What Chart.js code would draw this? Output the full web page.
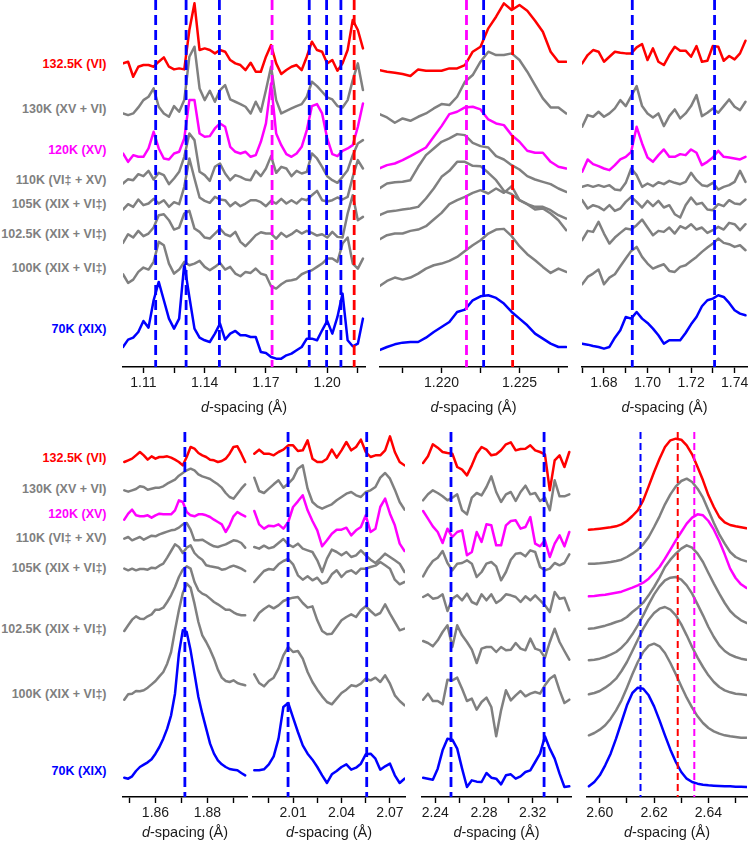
<!DOCTYPE html>
<html lang="en">
<head>
<meta charset="UTF-8">
<title>d-spacing stacks</title>
<script src="https://cdn.jsdelivr.net/npm/chart.js@4.4.1/dist/chart.umd.min.js"></script>
<style>
  html, body { margin: 0; padding: 0; background: #fff; overflow: hidden; }
  #fig { position: relative; width: 748px; height: 843px; overflow: hidden; font-family: 'Liberation Sans', Arial, sans-serif; }
  #fig canvas { position: absolute; }
  .lab { position: absolute; right: 641.5px; font-weight: bold; font-size: 12.5px; line-height: 16px; white-space: nowrap; }
  .ttl { position: absolute; width: 160px; text-align: center; font-size: 14.5px; line-height: 18px; color: #1a1a1a; }
</style>
</head>
<body>
<div id="fig"></div>
<script>
// ---------------- data ----------------
// runs, top to bottom of every stack
const runLabels = ['132.5K (VI)', '130K (XV + VI)', '120K (XV)', '110K (VI‡ + XV)',
                   '105K (XIX + VI‡)', '102.5K (XIX + VI‡)', '100K (XIX + VI‡)', '70K (XIX)'];
const runPhase  = ['VI', 'mix', 'XV', 'mix', 'mix', 'mix', 'mix', 'XIX'];

// panel A: 1.10 - 1.22
const xA = [1.1000,1.1025,1.1050,1.1075,1.1100,1.1125,1.1150,1.1175,1.1200,1.1225,1.1250,1.1275,
            1.1300,1.1325,1.1350,1.1375,1.1400,1.1425,1.1450,1.1475,1.1500,1.1525,1.1550,1.1575,
            1.1600,1.1625,1.1650,1.1675,1.1700,1.1725,1.1750,1.1775,1.1800,1.1825,1.1850,1.1875,
            1.1900,1.1925,1.1950,1.1975,1.2000,1.2025,1.2050,1.2075,1.2100,1.2125,1.2150,1.2175];
const offA = [90, 76, 63, 56, 49, 39, 27, 6];
const redA  = [1.0,1.5,-3.0,0,0.5,0.5,0,1.5,2.8,0,-0.8,-0.5,-0.8,11.0,19.0,5.0,5.5,5.0,4.0,5.0,4.5,2.0,1.0,0.5,
               -1.0,1.2,-1.5,-1.5,3.0,6.5,1.0,-2.2,-1.0,0,0.5,-1.0,3.0,7.5,5.0,4.5,1.0,2.0,-1.2,1.0,5.0,14.0,11.0,5.5];
const g130A = [0,-0.5,0,1.8,4.0,5.0,7.5,2.0,0,-1.0,2.2,0.5,4.0,17.0,20.0,7.5,4.0,6.8,3.5,7.0,8.5,4.2,3.5,2.8,
               2.0,0,3.5,0.5,7.0,14.0,4.0,0,0.8,1.5,2.2,2.8,5.0,9.5,8.2,6.5,4.8,4.2,2.2,1.8,4.0,10.0,15.0,7.0];
const magA  = [1.0,-1.5,0.5,0,0,2.5,7.5,2.5,-0.5,-0.8,1.0,1.5,5.5,17.0,17.0,7.0,6.0,6.2,8.5,10.0,9.0,3.0,1.5,1.0,
               1.5,0,0.5,4.5,10.0,22.0,7.0,3.5,0.8,0,1.0,3.0,8.0,15.2,15.8,13.0,5.5,0.8,0.2,1.8,2.5,3.5,9.0,16.0];
const g110A = [-1.0,0.3,0,1.8,1.2,2.8,0.2,2.2,1.5,-1.2,0.5,2.5,7.0,14.0,12.0,2.5,1.5,-0.2,4.0,5.0,2.0,0,1.5,1.0,
               0.2,0,2.8,1.2,3.5,7.2,2.2,4.0,3.5,1.2,2.8,2.0,2.5,8.0,6.5,4.0,1.2,0,-0.8,1.0,3.0,7.5,11.0,12.0];
const g105A = [-1.8,-0.2,-1.0,1.2,-0.5,0,1.4,0,1.0,-1.0,0.4,-0.2,5.0,13.5,7.5,1.8,0.8,0.2,2.0,1.2,1.0,-0.8,0.4,-0.8,
               0,1.0,1.0,0.4,-0.8,0.8,0,1.4,0,1.0,0,1.4,1.0,2.5,3.8,1.0,0.6,1.0,1.8,1.2,2.0,8.0,13.0,10.5];
const g102A = [-1.8,0.8,-0.2,1.8,0.2,1.0,2.8,6.5,6.8,5.0,2.2,2.8,7.0,7.8,2.5,1.5,-0.2,-0.5,1.0,2.5,0.8,0.2,1.5,-1.5,
               -2.8,-1.2,0.5,1.4,1.0,1.0,-0.5,1.2,0,0.8,2.0,1.0,1.8,1.2,0.4,0.8,-0.2,1.5,0,-0.2,7.0,12.5,5.0,6.0];
const g100A = [0.8,-1.8,-0.8,1.5,2.8,2.2,4.5,10.5,9.5,4.0,1.0,2.2,4.5,3.5,4.0,4.8,3.0,2.0,3.0,4.2,2.2,3.0,1.0,0.2,
               1.5,1.2,2.5,1.0,0.5,-2.8,-3.5,-2.2,-1.2,-1.0,-0.6,0.8,1.5,2.0,3.0,4.0,5.5,5.5,4.5,10.0,11.8,4.0,2.5,5.5];
const blueA = [0,2.2,2.8,4.5,7.8,5.8,14.0,19.5,14.0,8.5,5.5,8.5,25.0,15.0,5.5,2.8,2.0,1.5,4.0,7.0,2.2,4.0,4.8,3.5,
               3.5,3.0,3.0,-1.5,-1.8,-3.0,-3.5,-3.5,-2.5,-2.0,-1.0,0,2.5,2.5,2.0,5.0,7.8,4.0,9.0,16.0,2.0,0.2,1.0,8.5];
const dashA = [1.1160, 1.1309, 1.1472, 1.1730, 1.1912, 1.1997, 1.2067, 1.2132];
const dashPhaseA = ['XIX', 'XIX', 'XIX', 'XV', 'XIX', 'XIX', 'XIX', 'VI'];

// panel B: 1.216 - 1.228
const xB = [1.2160,1.2165,1.2170,1.2175,1.2180,1.2185,1.2190,1.2195,1.2200,1.2205,1.2210,1.2215,1.2220,
            1.2225,1.2230,1.2235,1.2240,1.2245,1.2250,1.2255,1.2260,1.2265,1.2270,1.2275,1.2280];
const offB = [90, 76, 63, 56, 46, 40, 26, 6];
const redB  = [-1.0,-1.5,-1.8,-2.2,-2.8,-0.8,-1.2,-1.2,-1.2,-0.5,-0.5,0.5,4.5,6.0,11.5,15.0,19.0,17.0,18.5,16.8,13.8,10.5,4.5,1.5,1.5];
const g130B = [-0.2,-1.2,-2.8,-1.5,-2.2,-1.0,0,1.5,2.8,2.5,5.0,9.5,11.5,15.5,18.5,17.5,17.5,18.0,16.0,12.5,8.5,4.5,1.8,1.8,0];
const magB  = [-3.5,-2.5,-2.0,-1.0,0.2,1.5,2.8,6.0,9.2,12.8,13.5,14.8,15.0,14.2,11.2,10.0,9.5,6.5,4.5,1.8,1.2,1.2,-1.5,-3.0,-3.5];
const g110B = [-2.5,-1.0,-0.6,-0.5,0,4.0,7.5,9.5,11.5,12.5,13.8,13.5,11.2,10.2,9.8,7.2,6.2,4.5,3.2,1.2,0.2,-0.5,-1.2,-2.5,-3.5];
const g105B = [-0.5,0.5,0.8,1.2,1.5,2.0,4.5,7.5,11.0,12.8,15.5,15.5,14.3,14.2,12.2,10.0,6.8,5.8,4.0,2.8,2.0,2.0,1.0,-0.5,-1.5];
const g102B = [-1.8,-0.5,0,0,0.8,1.2,2.2,4.2,6.2,8.8,10.0,11.0,12.2,13.0,12.0,13.5,12.2,14.2,10.0,8.8,7.2,7.5,6.0,4.0,1.0];
const g100B = [-1.8,-0.2,0.8,0.2,0.8,2.0,3.5,4.5,5.0,5.8,7.0,8.8,10.5,12.0,14.0,15.2,15.4,13.2,10.2,7.8,6.0,4.0,2.2,3.5,2.5];
const blueB = [-1.0,0,0.8,1.3,1.5,1.5,2.8,4.5,6.0,7.5,10.5,11.2,14.0,15.2,15.5,14.7,13.0,10.5,8.5,6.5,4.0,2.5,1.0,0,0];
const dashB = [1.2216, 1.2227, 1.22456];
const dashPhaseB = ['XV', 'XIX', 'VI'];

// panel C: 1.67 - 1.745
const xC = [1.6700,1.6725,1.6750,1.6775,1.6800,1.6825,1.6850,1.6875,1.6900,1.6925,1.6950,1.6975,1.7000,1.7025,1.7050,
            1.7075,1.7100,1.7125,1.7150,1.7175,1.7200,1.7225,1.7250,1.7275,1.7300,1.7325,1.7350,1.7375,1.7400,1.7425,1.7450];
const offC = [93, 76, 62, 54.5, 48.5, 41, 27, 6];
const redC  = [-2.0,0.5,2.0,1.5,-1.5,0,1.5,1.2,1.0,1.0,2.8,3.8,-1.0,2.5,-1.5,-2.5,0.5,3.0,1.8,1.8,0,3.2,-1.5,-1.2,3.2,3.0,-1.2,0.2,-0.8,1.0,4.8];
const g130C = [-4.0,-0.5,-1.0,0.5,-1.0,0,1.5,4.0,2.2,5.2,8.2,2.2,0,-1.2,0,-3.8,-0.8,1.2,-1.5,0,2.2,5.5,-0.8,0.2,1.5,0.2,2.2,4.2,2.0,1.0,3.5];
const magC  = [-3.5,0.2,-1.2,-1.8,-2.5,-3.0,-1.5,0.2,1.0,2.5,10.0,5.0,0.8,-0.5,1.5,3.2,1.0,1.0,1.8,1.5,3.2,2.2,-1.5,-0.5,0.8,2.8,1.0,0.8,0.5,0.2,1.0];
const g110C = [-0.5,0,-0.5,0,-0.5,0,-1.3,-1.5,0.7,5.0,3.0,-0.5,0.5,-0.3,0.9,0.3,1.3,0.7,0.3,1.0,3.7,1.5,0,-0.3,0.7,-1.3,-0.5,0,1.0,4.3,1.0];
const g105C = [1.5,-1.0,0,-0.5,-1.5,0,-1.7,-1.0,1.0,2.5,1.0,-0.7,1.3,-0.3,1.3,-0.7,0,-2.7,-3.7,0,2.3,0.3,0.7,-1.3,-1.5,0.3,-0.3,1.5,0.5,0.3,1.7];
const g102C = [-3.0,-0.2,-0.5,2.5,-1.0,-4.0,-2.2,-0.8,0.5,0.2,1.5,3.2,0.8,-1.5,-0.2,-0.5,0.8,-1.0,1.2,0.5,1.8,0.2,0.8,-0.8,0,1.0,0.2,2.2,1.8,0,1.8];
const g100C = [-2.2,0,1.0,2.2,-2.2,-0.2,0.8,3.2,5.5,7.8,9.0,6.0,4.0,2.5,3.2,3.8,1.8,1.5,3.0,3.5,4.8,6.0,7.5,8.8,10.0,11.5,10.2,9.8,9.0,9.5,8.0];
const blueC = [1.0,0.7,0.3,0,-0.5,0,2.8,5.0,9.0,8.5,10.5,8.5,7.2,5.5,3.5,1.0,2.0,2.0,2.0,4.2,6.8,9.0,12.2,14.0,14.5,15.5,15.0,13.2,11.0,10.0,9.5];
const dashC = [1.6930, 1.7308];
const dashPhaseC = ['XIX', 'XIX'];

// panel D: 1.848 - 1.895
const xD = [1.8480,1.8495,1.8510,1.8525,1.8540,1.8555,1.8570,1.8585,1.8600,1.8615,1.8630,1.8645,1.8660,1.8675,1.8690,1.8705,
            1.8720,1.8735,1.8750,1.8765,1.8780,1.8795,1.8810,1.8825,1.8840,1.8855,1.8870,1.8885,1.8900,1.8915,1.8930,1.8945];
const offD = [101, 92.5, 84.5, 77.5, 68.5, 53, 31, 6];
const redD  = [-0.5,0,0.5,1.5,2.5,1.5,0.2,1.2,0.5,1.0,1.0,1.2,0.8,0.2,-0.5,-1.5,1.0,4.0,3.5,2.2,1.5,1.0,0.2,0,-0.5,-0.2,0.5,2.0,4.0,4.2,2.0,-0.5];
const g130D = [-0.5,-0.9,-0.5,-0.1,0.7,0.5,-0.3,0,0.3,0.3,0.7,1.5,2.1,2.7,3.9,4.7,5.5,6.0,5.5,4.3,3.7,3.3,2.9,2.1,1.3,0.3,-1.3,-2.5,-3.0,-1.5,0,1.3];
const magD  = [-1.3,0.5,1.7,0,-0.3,-0.3,0,-0.7,0,0.5,0.3,0.3,0.3,1.5,4.5,4.0,1.0,0,-0.3,0.3,0.3,0,-0.5,-1.3,-2.0,-2.7,-5.0,-3.0,-0.3,1.0,0.3,-0.3];
const g110D = [0,0.5,-0.5,0,0.5,-0.3,0.3,0.9,0.7,1.3,1.7,2.1,2.5,2.7,3.3,4.3,4.7,2.7,-0.5,-0.5,-0.3,-1.0,-1.7,-2.3,-2.5,-2.1,-1.7,-1.1,-0.5,-0.7,-1.3,-2.7];
const g105D = [0,-0.5,0,-0.5,-0.1,-0.1,-0.3,0.3,0.1,0.9,1.5,3.3,5.3,7.3,6.5,4.7,6.3,7.0,4.7,3.5,2.7,1.0,0.7,0.5,0.3,-0.3,-0.1,0.5,0.9,0.5,0,-0.7];
const g102D = [-3.2,-1.5,0.2,1.2,0.5,0.4,1.2,1.8,3.2,3.2,3.8,5.5,7.5,10.0,13.0,15.2,16.2,15.5,11.5,9.0,8.0,7.5,6.5,5.5,4.8,4.0,3.2,3.2,2.4,1.8,1.5,1.5];
const g100D = [-1.8,-0.2,0,0.8,0.7,1.0,1.8,2.8,3.8,5.2,6.5,9.0,12.5,19.0,25.0,30.2,33.0,31.8,27.0,21.5,17.5,15.5,13.2,10.5,7.2,4.8,3.8,3.5,4.0,3.2,2.8,2.5];
const blueD = [-0.2,-0.5,0.2,1.8,3.0,3.7,4.4,5.3,7.0,9.0,11.5,14.5,18.5,25.0,37.0,44.0,43.5,38.0,31.0,24.0,19.0,14.5,10.0,7.0,5.0,3.8,3.0,2.4,2.2,2.0,1.2,0.5];
const dashD = [1.8713];
const dashPhaseD = ['XIX'];

// panel E: 1.986 - 2.079
const xE = [1.986,1.989,1.992,1.995,1.998,2.001,2.004,2.007,2.010,2.013,2.016,2.019,2.022,2.025,2.028,2.031,
            2.034,2.037,2.040,2.043,2.046,2.049,2.052,2.055,2.058,2.061,2.064,2.067,2.070,2.073,2.076,2.079];
const offE = [103, 92, 81.5, 75, 67, 55, 34, 8];
const redE  = [0,1.2,0,0,-0.5,0.5,1.2,2.5,2.5,0.8,1.0,4.0,-1.5,-2.5,-2.5,-1.5,1.2,-1.2,1.0,3.5,1.0,2.0,4.2,0.5,-1.0,-0.5,-0.5,1.0,5.2,0.5,-2.5,-3.5];
const g130E = [3.8,-0.2,-0.8,0.5,1.8,3.0,0.8,2.0,3.5,6.5,7.5,0.5,-3.5,-4.8,-5.5,-4.8,-4.2,-3.0,-2.0,-1.0,-0.5,-1.5,-2.0,-0.5,0,1.0,3.8,5.2,3.5,0.2,-3.5,-5.8];
const magE  = [4.3,0.3,-1.0,-0.1,-0.3,0.3,-1.0,1.0,5.5,7.2,9.0,4.5,1.3,-1.5,-6.3,-4.5,-2.5,-1.3,-1.3,-0.7,-3.0,-1.5,-0.5,3.0,-2.0,-1.0,5.5,8.0,3.5,0,-5.5,-7.7];
const g110E = [0,-0.5,0.4,-0.4,0,1.2,2.4,0.8,0,1.0,-0.5,-1.0,-1.5,-4.0,-7.5,-3.5,-0.8,-1.5,-2.5,-1.5,-3.0,-2.5,-1.0,-2.5,-3.8,-4.8,-3.5,-2.0,-3.0,-4.0,-5.0,-7.5];
const g105E = [-2.5,-0.8,0.8,1.4,1.2,2.8,3.8,4.4,2.8,-0.5,-1.8,-0.8,-2.0,-1.2,-3.0,-2.5,-0.2,1.0,-1.0,0.5,1.0,0,1.5,1.5,2.0,2.4,3.5,2.5,1.5,-1.8,-3.2,-2.5];
const g102E = [-2.0,0.2,1.4,2.4,1.6,2.5,3.8,4.4,4.8,5.0,3.2,1.8,2.2,-2.0,-5.2,-6.2,-6.0,-4.0,-2.0,-1.0,-0.2,-1.0,1.0,2.2,0.8,-0.5,0.2,2.8,0,-2.5,-5.0,-4.5];
const g100E = [2.8,0.2,-0.8,0.8,1.8,4.5,8.5,11.0,9.5,9.8,7.5,3.5,0.5,-1.8,-3.8,-5.5,-6.2,-4.5,-2.8,-1.8,-0.5,-0.8,0,1.5,1.0,1.8,0.5,2.5,0,-3.5,-5.2,-6.5];
const blueE = [0,0,0.3,1.8,4.2,9.5,19.0,20.2,15.8,11.5,7.5,5.0,3.2,1.0,-1.5,-3.8,-1.2,-0.2,1.0,1.8,0.2,0.8,2.0,4.8,5.0,3.5,0.2,1.2,2.0,-1.5,-3.8,-2.5];
const dashE = [2.0069, 2.0556];
const dashPhaseE = ['XIX', 'XIX'];

// panel F: 2.23 - 2.35
const xF = [2.230,2.234,2.238,2.242,2.246,2.250,2.254,2.258,2.262,2.266,2.270,2.274,2.278,2.282,2.286,2.290,
            2.294,2.298,2.302,2.306,2.310,2.314,2.318,2.322,2.326,2.330,2.334,2.338,2.342,2.346,2.350];
const offF = [103, 90, 79, 70, 60, 46, 30, 5];
const redF  = [-2.8,-0.8,2.8,1.8,0.5,0.2,0,-4.0,-4.8,-6.5,-3.5,0,2.0,1.2,-0.5,-0.2,1.0,2.8,3.4,1.0,1.4,1.5,2.5,1.0,0.5,-0.2,-11.0,-2.0,-0.5,-4.0,0.5];
const g130F = [-1.0,0.8,2.0,1.2,0.2,-1.0,-0.2,0.8,-4.0,-5.2,-0.2,1.2,0.5,3.0,6.2,1.5,-1.5,0.8,1.5,-1.2,1.5,3.4,0.8,1.2,-1.2,-0.2,-4.0,5.0,0.2,0.2,0.8];
const magF  = [6.8,4.5,2.2,0.5,-2.8,1.5,-1.0,0.5,1.0,-6.5,-5.5,0.5,-2.5,2.8,2.5,-3.5,-3.5,2.5,3.8,4.0,1.5,2.0,5.0,-3.0,-3.8,-2.0,-7.0,-3.0,-0.5,-3.8,0.5];
const g110F = [-3.8,-1.2,0.8,1.8,3.8,0.2,-2.0,0,0.2,1.0,0,-4.0,-2.5,0,0.5,-0.8,-5.0,-2.5,1.2,3.0,3.2,2.2,4.0,3.5,-1.0,-2.0,-1.5,0.2,-0.5,0.2,2.8];
const g105F = [0,0.8,-0.5,-0.2,0.8,-4.2,-0.5,0.5,-1.0,1.0,-1.5,-2.2,0.8,-1.0,0.8,-1.8,-0.8,0.8,0.5,0,-1.5,0.2,-1.0,0.5,-1.0,-2.5,-4.5,1.5,-0.5,-0.2,-4.0];
const g102F = [0.8,0.2,-0.8,1.0,3.5,5.5,-1.0,5.5,2.5,0.5,-1.8,-5.8,-1.5,-1.0,-1.0,-2.5,-1.0,-2.0,-1.8,0.2,-1.5,-2.0,1.5,-1.5,-2.0,-4.2,0.5,4.5,0.5,-2.2,-4.8];
const g100F = [-0.8,1.0,-1.2,-1.2,-2.2,5.2,5.0,5.8,2.5,-1.2,-0.5,-3.8,-1.5,-0.2,-3.0,-11.8,-4.0,2.0,-1.0,0.5,1.8,0.2,1.0,1.5,1.0,3.5,5.5,6.5,2.0,-1.8,-0.8];
const blueF = [0.8,0.5,0.2,3.5,9.0,12.5,12.2,9.5,3.5,-2.0,0,-0.4,-0.5,2.2,0.8,0.5,-1.2,1.5,1.8,0.5,1.2,2.5,3.0,5.5,8.0,13.2,9.5,6.5,2.0,-2.0,-1.8];
const dashF = [2.2529, 2.3293];
const dashPhaseF = ['XIX', 'XIX'];

// panel G: 2.596 - 2.654
const xG = [2.596,2.598,2.600,2.602,2.604,2.606,2.608,2.610,2.612,2.614,2.616,2.618,2.620,2.622,2.624,
            2.626,2.628,2.630,2.632,2.634,2.636,2.638,2.640,2.642,2.644,2.646,2.648,2.650,2.652,2.654];
const offG = [80.5, 70, 60.2, 50.5, 41, 30.5, 18, 3];
const redG  = [-0.3,-0.2,0,0.2,0.4,0.7,1.3,2.3,3.8,5.5,8.5,12.7,17.0,21.0,24.5,26.5,27.0,26.7,25.0,22.3,18.5,14.5,10.0,6.5,3.5,1.9,1.1,0.7,0.4,0.1];
const g130G = [0,0,0.1,0.3,0.5,0.8,1.2,2.0,3.0,4.2,5.8,8.0,11.0,14.2,17.8,20.8,23.2,24.8,25.5,24.5,22.5,19.8,16.0,12.2,8.8,6.0,3.5,2.0,1.2,0.7];
const magG  = [0,0.1,0.3,0.5,0.8,1.1,1.4,2.0,2.6,3.3,4.1,5.3,7.0,8.8,11.3,14.0,16.8,19.3,21.8,23.6,24.6,24.3,22.6,20.0,16.6,12.6,8.3,5.5,3.6,2.5];
const g110G = [0,0.1,0.5,0.9,1.4,2.0,2.5,3.5,5.0,6.3,7.8,10.0,12.5,15.3,18.5,20.7,22.5,24.0,25.0,24.3,22.5,20.0,16.7,13.5,10.5,7.7,5.3,3.7,2.5,1.7];
const g105G = [0,0.2,0.5,1.0,1.7,2.5,3.8,5.5,7.8,10.5,13.5,16.8,19.8,22.2,24.0,24.8,25.0,24.2,22.5,20.0,16.8,13.5,10.0,7.0,4.5,2.8,1.7,1.0,0.5,0.2];
const g102G = [0.3,0.7,1.3,2.3,3.5,5.0,7.3,10.0,13.3,16.7,20.0,22.7,24.7,26.0,26.5,25.7,24.0,21.3,18.0,14.5,11.3,8.5,6.0,4.0,2.5,1.5,0.9,0.5,0.3,0.1];
const g100G = [0.5,1.2,2.2,3.5,5.5,8.0,11.0,14.8,18.8,22.5,25.5,27.4,28.0,27.2,25.2,22.2,18.8,15.2,11.8,8.8,6.2,4.2,2.7,1.7,1.0,0.5,0.2,0,-0.2,-0.2];
const blueG = [0.2,1.5,3.5,6.5,10.0,14.5,19.5,24.5,28.2,29.8,29.5,27.5,24.2,20.0,15.5,11.2,7.5,4.5,2.5,1.5,1.0,0.7,0.5,0.4,0.3,0.2,0.2,0.1,0.1,0];
const dashG = [2.6150, 2.6287, 2.6348];
const dashPhaseG = ['XIX', 'VI', 'XV'];

// ---------------- panels ----------------
const panels = [
  { x: xA, s: [redA,g130A,magA,g110A,g105A,g102A,g100A,blueA], off: offA, dash: dashA, dashPh: dashPhaseA,
    min: 1.1, max: 1.2185, major: [1.11,1.14,1.17,1.20], minor: [1.125,1.155,1.185,1.215], dig: 2 },
  { x: xB, s: [redB,g130B,magB,g110B,g105B,g102B,g100B,blueB], off: offB, dash: dashB, dashPh: dashPhaseB,
    min: 1.21605, max: 1.22805, major: [1.220,1.225], minor: [1.2175,1.2225,1.2275], dig: 3 },
  { x: xC, s: [redC,g130C,magC,g110C,g105C,g102C,g100C,blueC], off: offC, dash: dashC, dashPh: dashPhaseC,
    min: 1.6699, max: 1.7457, major: [1.68,1.70,1.72,1.74], minor: [1.67,1.69,1.71,1.73], dig: 2 },
  { x: xD, s: [redD,g130D,magD,g110D,g105D,g102D,g100D,blueD], off: offD, dash: dashD, dashPh: dashPhaseD,
    min: 1.8475, max: 1.8952, major: [1.86,1.88], minor: [1.85,1.87,1.89], dig: 2 },
  { x: xE, s: [redE,g130E,magE,g110E,g105E,g102E,g100E,blueE], off: offE, dash: dashE, dashPh: dashPhaseE,
    min: 1.9852, max: 2.0793, major: [2.01,2.04,2.07], minor: [1.995,2.025,2.055], dig: 2 },
  { x: xF, s: [redF,g130F,magF,g110F,g105F,g102F,g100F,blueF], off: offF, dash: dashF, dashPh: dashPhaseF,
    min: 2.2291, max: 2.3514, major: [2.24,2.28,2.32], minor: [2.26,2.30,2.34], dig: 2 },
  { x: xG, s: [redG,g130G,magG,g110G,g105G,g102G,g100G,blueG], off: offG, dash: dashG, dashPh: dashPhaseG,
    min: 2.5953, max: 2.6542, major: [2.60,2.62,2.64], minor: [2.61,2.63,2.65], dig: 2 }
];

// ---------------- layout / style ----------------
const phaseColor = { VI: '#ff0000', XV: '#ff00ff', XIX: '#0000ff', mix: '#808080' };
const labelColor = { VI: '#ff0000', XV: '#ff00ff', XIX: '#0000ff', mix: '#7f7f7f' };
const boxes = [
  { left: 123, top: 0,   w: 242, h: 367, yMax: 110,   dashW: 2.8, dashPat: [10, 5] },
  { left: 380, top: 0,   w: 187, h: 367, yMax: 110,   dashW: 2.8, dashPat: [10, 5] },
  { left: 582, top: 0,   w: 165, h: 367, yMax: 110,   dashW: 2.8, dashPat: [10, 5] },
  { left: 123, top: 432, w: 124, h: 365, yMax: 109.5, dashW: 2.8, dashPat: [10, 5] },
  { left: 253, top: 432, w: 152, h: 365, yMax: 109.5, dashW: 2.8, dashPat: [10, 5] },
  { left: 422, top: 432, w: 149, h: 365, yMax: 109.5, dashW: 2.8, dashPat: [10, 5] },
  { left: 587, top: 432, w: 160, h: 365, yMax: 109.5, dashW: 2.0, dashPat: [7, 4] }
];
const PAD = 16, AXH = 32;
const labelYTop = [64, 109, 150, 180, 204, 234, 268, 329];
const labelYBot = [458, 489, 514, 538, 568, 629, 694, 771];

const fig = document.getElementById('fig');
Chart.defaults.font.family = "'Liberation Sans', Arial, sans-serif";

panels.forEach((p, k) => {
  const b = boxes[k];
  const cv = document.createElement('canvas');
  cv.width = b.w + 2 * PAD;
  cv.height = b.h + AXH;
  cv.style.left = (b.left - PAD) + 'px';
  cv.style.top = b.top + 'px';
  cv.style.width = cv.width + 'px';
  cv.style.height = cv.height + 'px';
  fig.appendChild(cv);

  const datasets = [];
  // dashed reference lines (first = drawn on top)
  p.dash.forEach((d, j) => {
    datasets.push({
      data: [{ x: d, y: b.yMax }, { x: d, y: 0 }],
      borderColor: phaseColor[p.dashPh[j]],
      borderWidth: b.dashW,
      borderDash: b.dashPat,
      borderCapStyle: 'butt',
      pointRadius: 0
    });
  });
  p.s.forEach((ys, j) => {
    const pts = [];
    for (let i = 0; i < p.x.length && i < ys.length; i++) pts.push({ x: p.x[i], y: p.off[j] + ys[i] });
    datasets.push({
      data: pts,
      borderColor: phaseColor[runPhase[j]],
      borderWidth: 2.5,
      borderJoinStyle: 'round',
      borderCapStyle: 'round',
      pointRadius: 0,
      tension: 0
    });
  });

  const tickVals = p.major.concat(p.minor).filter(v => v >= p.min && v <= p.max).sort((a, c) => a - c);

  new Chart(cv, {
    type: 'line',
    data: { datasets },
    options: {
      responsive: false,
      animation: false,
      devicePixelRatio: 1,
      layout: { padding: { left: PAD, right: PAD, top: 0, bottom: 0 } },
      plugins: { legend: { display: false }, tooltip: { enabled: false } },
      scales: {
        x: {
          type: 'linear',
          min: p.min,
          max: p.max,
          border: { display: true, color: '#000', width: 1.6 },
          grid: { display: true, drawOnChartArea: false, drawTicks: true, tickLength: 6, tickWidth: 1.4, tickColor: '#000' },
          ticks: {
            autoSkip: false, maxRotation: 0, padding: 2, color: '#1a1a1a',
            font: { size: 14 },
            callback: (v) => p.major.indexOf(v) >= 0 ? v.toFixed(p.dig) : ''
          },
          afterBuildTicks: (scale) => { scale.ticks = tickVals.map(v => ({ value: v })); },
          afterFit: (scale) => { scale.height = AXH; }
        },
        y: { display: false, min: 0, max: b.yMax }
      }
    }
  });

  // axis title
  const t = document.createElement('div');
  t.className = 'ttl';
  t.innerHTML = '<i>d</i>-spacing (Å)';
  t.style.left = (b.left + b.w / 2 - 80) + 'px';
  t.style.top = (b.top + b.h + (b.top === 0 ? 31 : 26)) + 'px';
  fig.appendChild(t);
});

// run labels, left of the first panel in each row
[labelYTop, labelYBot].forEach(ys => {
  runLabels.forEach((txt, j) => {
    const d = document.createElement('div');
    d.className = 'lab';
    d.textContent = txt;
    d.style.color = labelColor[runPhase[j]];
    d.style.top = (ys[j] - 8) + 'px';
    fig.appendChild(d);
  });
});
</script>
</body>
</html>
